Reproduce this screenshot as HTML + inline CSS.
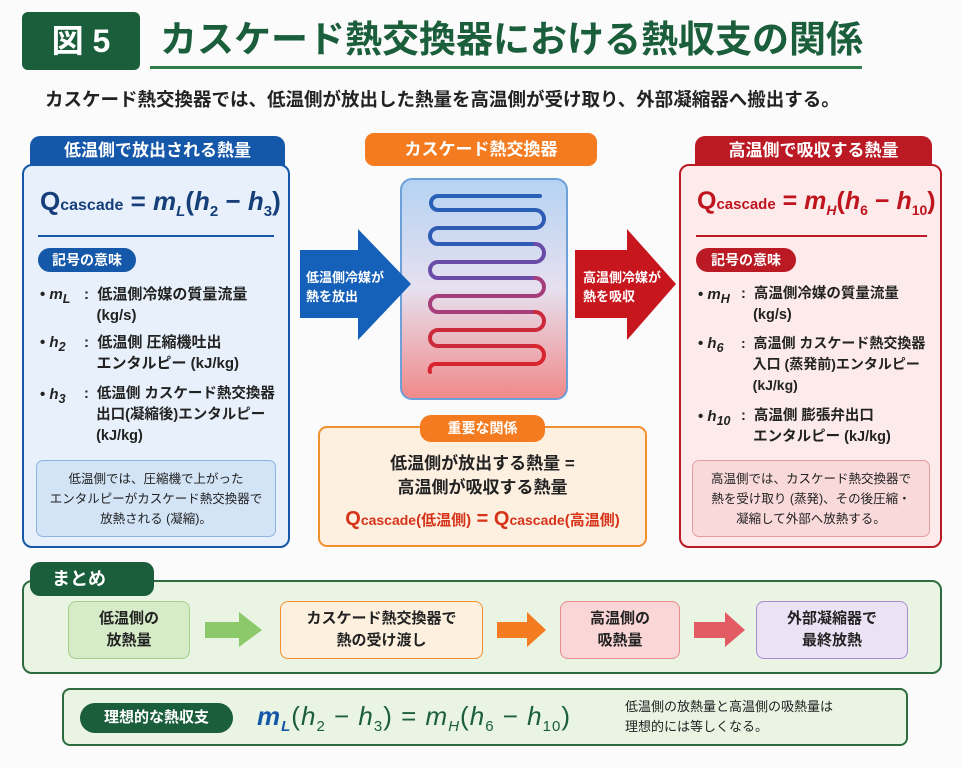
<!DOCTYPE html>
<html><head><meta charset="utf-8"><style>
*{margin:0;padding:0;box-sizing:border-box}
body{width:961px;height:768px;background:#fafbfa;font-family:"Liberation Sans","Noto Sans CJK JP",sans-serif;position:relative;overflow:hidden;color:#222;font-weight:bold}
.a{position:absolute}
.tab{position:absolute;color:#fff;text-align:center;border-radius:10px 10px 0 0;font-size:17px;line-height:30px}
.pill{position:absolute;color:#fff;border-radius:14px;text-align:center;font-size:14px;line-height:24px}
.f{font-family:"Liberation Sans",sans-serif;white-space:nowrap}
.i{font-style:italic}
.li{position:absolute;font-size:15px;line-height:21px;white-space:nowrap}
.sb{position:absolute;border-radius:8px;text-align:center;font-size:15px;line-height:22px;display:flex;align-items:center;justify-content:center}
</style></head><body>
<div class="a" style="left:22px;top:12px;width:118px;height:58px;background:#1b5e3b;border-radius:6px;color:#fff;font-size:32px;line-height:58px;text-align:center">図 5</div>
<div class="a" style="left:160px;top:14px;font-size:37px;color:#1b5e3b;line-height:52px;white-space:nowrap">カスケード熱交換器における熱収支の関係</div>
<div class="a" style="left:150px;top:66px;width:712px;height:3px;background:#2e7d4a"></div>
<div class="a" style="left:45px;top:87px;font-size:18.5px;line-height:26px;color:#222;white-space:nowrap">カスケード熱交換器では、低温側が放出した熱量を高温側が受け取り、外部凝縮器へ搬出する。</div>

<!-- left -->
<div class="tab" style="left:30px;top:136px;width:255px;background:#1557a8">低温側で放出される熱量</div>
<div class="a" style="left:22px;top:164px;width:268px;height:384px;background:#e8f1fb;border:2px solid #1557a8;border-radius:10px"></div>
<div class="a f" style="left:40px;top:184px;font-size:26px;color:#163f7a;line-height:34px">Q<span style="font-size:16px">cascade</span> = <span class="i">m<sub style="font-size:15px">L</sub></span>(<span class="i">h</span><sub style="font-size:15px">2</sub> − <span class="i">h</span><sub style="font-size:15px">3</sub>)</div>
<div class="a" style="left:38px;top:235px;width:236px;height:2px;background:#1557a8"></div>
<div class="pill" style="left:38px;top:248px;width:98px;background:#1557a8">記号の意味</div>
<div class="li" style="left:40px;top:284px">• <span class="f i">m<sub>L</sub></span></div><div class="li" style="left:84px;top:284px">:&nbsp; 低温側冷媒の質量流量<br>&nbsp;&nbsp;&nbsp;(kg/s)</div>
<div class="li" style="left:40px;top:332px">• <span class="f i">h<sub>2</sub></span></div><div class="li" style="left:84px;top:332px">:&nbsp; 低温側 圧縮機吐出<br>&nbsp;&nbsp;&nbsp;エンタルピー (kJ/kg)</div>
<div class="li" style="left:40px;top:384px">• <span class="f i">h<sub>3</sub></span></div><div class="li" style="left:84px;top:384px;font-size:14.5px">:&nbsp; 低温側 カスケード熱交換器<br>&nbsp;&nbsp;&nbsp;出口(凝縮後)エンタルピー<br>&nbsp;&nbsp;&nbsp;(kJ/kg)</div>
<div class="a" style="left:36px;top:460px;width:240px;height:77px;background:#d3e4f7;border:1.5px solid #8fb4e0;border-radius:7px;font-size:12.5px;line-height:20px;text-align:center;padding-top:8px;font-weight:normal">低温側では、圧縮機で上がった<br>エンタルピーがカスケード熱交換器で<br>放熱される (凝縮)。</div>

<!-- center -->
<div class="a" style="left:365px;top:133px;width:232px;height:33px;background:#f47b20;border-radius:9px;color:#fff;font-size:17px;line-height:33px;text-align:center">カスケード熱交換器</div>
<div class="a" style="left:400px;top:178px;width:168px;height:222px;border-radius:12px;background:linear-gradient(#b5d3f3,#e6e0ef 50%,#f08a8a);border:2px solid #6d9fd8"></div>
<svg class="a" style="left:400px;top:178px" width="168" height="222"><g fill="none" stroke-width="4" stroke-linecap="round">
<path d="M140 18 H38 a7 7 0 0 0 0 14 H135" stroke="#2860b8"/>
<path d="M135 32 a9 9 0 0 1 0 18 H38 a8 8 0 0 0 0 16 H135" stroke="#2e5cb5"/>
<path d="M135 66 a9 9 0 0 1 0 18 H38 a8 8 0 0 0 0 16 H135" stroke="#6a4ca8"/>
<path d="M135 100 a9 9 0 0 1 0 18 H38 a8 8 0 0 0 0 16 H135" stroke="#a53e7a"/>
<path d="M135 134 a9 9 0 0 1 0 18 H38 a8 8 0 0 0 0 16 H135" stroke="#cc2a3a"/>
<path d="M135 168 a9 9 0 0 1 0 18 H36 a6 6 0 0 0 -6 8" stroke="#d8242c"/>
</g></svg>
<svg class="a" style="left:300px;top:229px" width="112" height="112"><polygon points="0,21 58,21 58,0 111,55 58,111 58,89 0,89" fill="#1560b8"/></svg>
<div class="a" style="left:306px;top:268px;color:#fff;font-size:13px;line-height:19px">低温側冷媒が<br>熱を放出</div>
<svg class="a" style="left:575px;top:229px" width="102" height="112"><polygon points="0,21 52,21 52,0 101,55 52,111 52,89 0,89" fill="#c8161e"/></svg>
<div class="a" style="left:583px;top:268px;color:#fff;font-size:13px;line-height:19px">高温側冷媒が<br>熱を吸収</div>
<div class="a" style="left:318px;top:426px;width:329px;height:121px;background:#fdf0e0;border:2px solid #f0902f;border-radius:9px"></div>
<div class="a" style="left:420px;top:415px;width:125px;height:27px;background:#f47b20;border-radius:11px;color:#fff;font-size:14px;line-height:27px;text-align:center">重要な関係</div>
<div class="a" style="left:318px;top:452px;width:329px;text-align:center;font-size:17px;line-height:24px">低温側が放出する熱量 =<br>高温側が吸収する熱量</div>
<div class="a" style="left:318px;top:505px;width:329px;text-align:center;font-size:20px;color:#d6331a;line-height:28px"><span class="f">Q<span style="font-size:14px">cascade</span></span><span style="font-size:15px">(低温側)</span> = <span class="f">Q<span style="font-size:14px">cascade</span></span><span style="font-size:15px">(高温側)</span></div>

<!-- right -->
<div class="tab" style="left:695px;top:136px;width:237px;background:#bb1a24">高温側で吸収する熱量</div>
<div class="a" style="left:679px;top:164px;width:263px;height:384px;background:#fdebeb;border:2px solid #bb1a24;border-radius:10px"></div>
<div class="a f" style="left:697px;top:184px;font-size:25px;color:#c0141e;line-height:34px">Q<span style="font-size:15px">cascade</span> = <span class="i">m<sub style="font-size:14px">H</sub></span>(<span class="i">h</span><sub style="font-size:14px">6</sub> − <span class="i">h</span><sub style="font-size:14px">10</sub>)</div>
<div class="a" style="left:696px;top:235px;width:231px;height:2px;background:#bb1a24"></div>
<div class="pill" style="left:696px;top:248px;width:100px;background:#bb1a24">記号の意味</div>
<div class="li" style="left:698px;top:284px">• <span class="f i">m<sub>H</sub></span></div><div class="li" style="left:741px;top:284px;font-size:14.5px">:&nbsp; 高温側冷媒の質量流量<br>&nbsp;&nbsp;&nbsp;(kg/s)</div>
<div class="li" style="left:698px;top:333px">• <span class="f i">h<sub>6</sub></span></div><div class="li" style="left:741px;top:333px;font-size:14px">:&nbsp; 高温側 カスケード熱交換器<br>&nbsp;&nbsp;&nbsp;入口 (蒸発前)エンタルピー<br>&nbsp;&nbsp;&nbsp;(kJ/kg)</div>
<div class="li" style="left:698px;top:406px">• <span class="f i">h<sub>10</sub></span></div><div class="li" style="left:741px;top:406px;font-size:14.5px">:&nbsp; 高温側 膨張弁出口<br>&nbsp;&nbsp;&nbsp;エンタルピー (kJ/kg)</div>
<div class="a" style="left:692px;top:460px;width:238px;height:77px;background:#f9d9da;border:1.5px solid #e79da0;border-radius:7px;font-size:12.5px;line-height:20px;text-align:center;padding-top:8px;font-weight:normal">高温側では、カスケード熱交換器で<br>熱を受け取り (蒸発)、その後圧縮・<br>凝縮して外部へ放熱する。</div>

<!-- summary -->
<div class="a" style="left:22px;top:580px;width:920px;height:94px;background:#e9f4e3;border:2px solid #2e6b3f;border-radius:10px"></div>
<div class="a" style="left:30px;top:562px;width:124px;height:34px;background:#1b5e3b;border-radius:10px;color:#fff;font-size:18px;line-height:34px;padding-left:22px">まとめ</div>
<div class="sb" style="left:68px;top:601px;width:122px;height:58px;background:#d6ecc8;border:1.5px solid #a5d08a">低温側の<br>放熱量</div>
<svg class="a" style="left:205px;top:612px" width="58" height="36"><polygon points="0,10 34,10 34,0 57,18 34,35 34,26 0,26" fill="#8cc96a"/></svg>
<div class="sb" style="left:280px;top:601px;width:203px;height:58px;background:#fdf0df;border:1.5px solid #f0902f">カスケード熱交換器で<br>熱の受け渡し</div>
<svg class="a" style="left:497px;top:612px" width="50" height="36"><polygon points="0,10 30,10 30,0 49,18 30,35 30,26 0,26" fill="#f47b20"/></svg>
<div class="sb" style="left:560px;top:601px;width:120px;height:58px;background:#fad6d6;border:1.5px solid #e88a8e">高温側の<br>吸熱量</div>
<svg class="a" style="left:694px;top:612px" width="52" height="36"><polygon points="0,10 31,10 31,0 51,18 31,35 31,26 0,26" fill="#e35b63"/></svg>
<div class="sb" style="left:756px;top:601px;width:152px;height:58px;background:#ece2f5;border:1.5px solid #a98bd0">外部凝縮器で<br>最終放熱</div>

<div class="a" style="left:62px;top:688px;width:846px;height:58px;background:#e9f4e3;border:2px solid #2e6b3f;border-radius:8px"></div>
<div class="a" style="left:80px;top:703px;width:153px;height:30px;background:#1b5e3b;border-radius:15px;color:#fff;font-size:15px;line-height:30px;text-align:center">理想的な熱収支</div>
<div class="a f" style="left:257px;top:698px;font-size:26px;color:#1b5e3b;line-height:36px;font-weight:normal;letter-spacing:1px"><span class="i" style="color:#1557a8;font-weight:bold">m<sub style="font-size:15px">L</sub></span>(<span class="i">h</span><sub style="font-size:15px">2</sub> − <span class="i">h</span><sub style="font-size:15px">3</sub>) = <span class="i">m<sub style="font-size:15px">H</sub></span>(<span class="i">h</span><sub style="font-size:15px">6</sub> − <span class="i">h</span><sub style="font-size:15px">10</sub>)</div>
<div class="a" style="left:625px;top:697px;font-size:13px;line-height:20px;font-weight:normal">低温側の放熱量と高温側の吸熱量は<br>理想的には等しくなる。</div>
</body></html>
